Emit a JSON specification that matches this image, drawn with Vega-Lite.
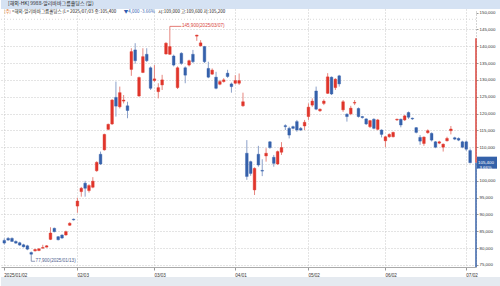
{
  "$schema": "https://vega.github.io/schema/vega-lite/v6.json",
  "padding": 0,
  "background": "white",
  "spacing": 0,
  "bounds": "flush",
  "config": {
    "view": {"stroke": null},
    "font": "Noto Sans CJK KR",
    "axis": {"labelFont": "Liberation Sans"}
  },
  "resolve": {"scale": {"x": "independent", "y": "independent"}},
  "datasets": {
    "ohlc": [
      {"d":"2025-01-02","o":82300,"h":82900,"l":81100,"c":81500},
      {"d":"2025-01-03","o":82900,"h":83300,"l":82200,"c":82400},
      {"d":"2025-01-06","o":82900,"h":83200,"l":81900,"c":82000},
      {"d":"2025-01-07","o":82000,"h":82300,"l":81300,"c":81500},
      {"d":"2025-01-08","o":81600,"h":81900,"l":80700,"c":80900},
      {"d":"2025-01-09","o":81000,"h":81300,"l":80200,"c":80400},
      {"d":"2025-01-10","o":80700,"h":81000,"l":79400,"c":79700},
      {"d":"2025-01-13","o":78700,"h":79000,"l":77900,"c":78200},
      {"d":"2025-01-14","o":79200,"h":79800,"l":79000,"c":79600},
      {"d":"2025-01-15","o":79300,"h":80000,"l":79100,"c":79800},
      {"d":"2025-01-16","o":80000,"h":81000,"l":79800,"c":80200},
      {"d":"2025-01-17","o":80300,"h":80900,"l":80200,"c":80700},
      {"d":"2025-01-20","o":82600,"h":86200,"l":82400,"c":84500},
      {"d":"2025-01-21","o":85900,"h":86100,"l":84700,"c":84900},
      {"d":"2025-01-22","o":83400,"h":83600,"l":82300,"c":82500},
      {"d":"2025-01-23","o":83900,"h":84100,"l":82800,"c":83000},
      {"d":"2025-01-24","o":83900,"h":85200,"l":83700,"c":84900},
      {"d":"2025-01-27","o":86800,"h":87700,"l":86600,"c":87400},
      {"d":"2025-01-28","o":88600,"h":88800,"l":88200,"c":88400},
      {"d":"2025-02-03","o":92500,"h":95000,"l":90500,"c":94000},
      {"d":"2025-02-04","o":96800,"h":98200,"l":95300,"c":97800},
      {"d":"2025-02-05","o":99300,"h":100000,"l":95300,"c":97800},
      {"d":"2025-02-06","o":97100,"h":99000,"l":96500,"c":98600},
      {"d":"2025-02-07","o":98100,"h":101100,"l":97800,"c":99900},
      {"d":"2025-02-10","o":103000,"h":105800,"l":102700,"c":105500},
      {"d":"2025-02-11","o":107900,"h":108700,"l":104700,"c":105000},
      {"d":"2025-02-12","o":109200,"h":114000,"l":109000,"c":113800},
      {"d":"2025-02-13","o":115300,"h":117000,"l":115000,"c":116800},
      {"d":"2025-02-14","o":116900,"h":124300,"l":116600,"c":124000},
      {"d":"2025-02-17","o":124800,"h":129500,"l":119100,"c":122200},
      {"d":"2025-02-18","o":122000,"h":128000,"l":121500,"c":126200},
      {"d":"2025-02-19","o":123700,"h":125500,"l":123000,"c":124000},
      {"d":"2025-02-20","o":122300,"h":123500,"l":118600,"c":120900},
      {"d":"2025-02-21","o":133100,"h":139400,"l":131200,"c":138400},
      {"d":"2025-02-24","o":138900,"h":140900,"l":134800,"c":135700},
      {"d":"2025-02-25","o":125200,"h":131000,"l":125000,"c":130700},
      {"d":"2025-02-26","o":132200,"h":139400,"l":132000,"c":136900},
      {"d":"2025-02-27","o":137600,"h":139400,"l":135300,"c":135700},
      {"d":"2025-02-28","o":133600,"h":134000,"l":127000,"c":127500},
      {"d":"2025-03-03","o":129800,"h":134400,"l":129400,"c":130300},
      {"d":"2025-03-04","o":126500,"h":129000,"l":124500,"c":127700},
      {"d":"2025-03-05","o":128500,"h":131500,"l":127000,"c":130000},
      {"d":"2025-03-06","o":137700,"h":141200,"l":137500,"c":140900},
      {"d":"2025-03-07","o":137600,"h":145900,"l":137400,"c":139900},
      {"d":"2025-03-10","o":137100,"h":137500,"l":134000,"c":134400},
      {"d":"2025-03-11","o":127700,"h":134000,"l":127300,"c":133600},
      {"d":"2025-03-12","o":137900,"h":138200,"l":134500,"c":134900},
      {"d":"2025-03-13","o":133600,"h":134000,"l":129000,"c":131400},
      {"d":"2025-03-14","o":134400,"h":136000,"l":134000,"c":135700},
      {"d":"2025-03-17","o":137600,"h":138900,"l":135000,"c":135400},
      {"d":"2025-03-18","o":143000,"h":143400,"l":141600,"c":143300},
      {"d":"2025-03-19","o":140100,"h":141800,"l":139900,"c":141000},
      {"d":"2025-03-20","o":139900,"h":140100,"l":135000,"c":135400},
      {"d":"2025-03-21","o":133400,"h":135400,"l":130500,"c":130800},
      {"d":"2025-03-24","o":131700,"h":133400,"l":131500,"c":132900},
      {"d":"2025-03-25","o":130800,"h":132400,"l":127200,"c":127500},
      {"d":"2025-03-26","o":128700,"h":130000,"l":128400,"c":129500},
      {"d":"2025-03-27","o":129500,"h":130500,"l":129200,"c":130000},
      {"d":"2025-03-28","o":132000,"h":133000,"l":130600,"c":131000},
      {"d":"2025-03-31","o":128800,"h":129200,"l":126200,"c":128000},
      {"d":"2025-04-01","o":129000,"h":131400,"l":128700,"c":129800},
      {"d":"2025-04-02","o":129000,"h":131900,"l":128500,"c":129800},
      {"d":"2025-04-03","o":122300,"h":126200,"l":122000,"c":123500},
      {"d":"2025-04-07","o":108200,"h":112100,"l":100300,"c":101300},
      {"d":"2025-04-08","o":105700,"h":106000,"l":101500,"c":102200},
      {"d":"2025-04-09","o":97300,"h":104000,"l":95800,"c":103700},
      {"d":"2025-04-10","o":107900,"h":110400,"l":104200,"c":104700},
      {"d":"2025-04-11","o":103100,"h":106400,"l":101400,"c":102900},
      {"d":"2025-04-14","o":107400,"h":109700,"l":105700,"c":108200},
      {"d":"2025-04-15","o":111600,"h":111800,"l":109500,"c":109900},
      {"d":"2025-04-16","o":107000,"h":107700,"l":104200,"c":105200},
      {"d":"2025-04-17","o":105000,"h":109000,"l":104700,"c":108700},
      {"d":"2025-04-22","o":108500,"h":111500,"l":107700,"c":109900},
      {"d":"2025-04-23","o":116400,"h":116800,"l":115100,"c":116100},
      {"d":"2025-04-24","o":115600,"h":116100,"l":112600,"c":113600},
      {"d":"2025-04-25","o":116100,"h":116400,"l":115300,"c":115600},
      {"d":"2025-04-28","o":117600,"h":118100,"l":114600,"c":115100},
      {"d":"2025-04-29","o":115600,"h":116000,"l":114800,"c":115100},
      {"d":"2025-04-30","o":116300,"h":118100,"l":115100,"c":117400},
      {"d":"2025-05-02","o":119100,"h":123000,"l":118100,"c":121900},
      {"d":"2025-05-06","o":122500,"h":124500,"l":122000,"c":123700},
      {"d":"2025-05-07","o":126700,"h":128000,"l":121000,"c":121300},
      {"d":"2025-05-08","o":120800,"h":121500,"l":120500,"c":121300},
      {"d":"2025-05-09","o":123000,"h":124200,"l":122500,"c":123700},
      {"d":"2025-05-12","o":126000,"h":132000,"l":125800,"c":130900},
      {"d":"2025-05-13","o":130800,"h":131000,"l":125500,"c":125800},
      {"d":"2025-05-14","o":127700,"h":130500,"l":127000,"c":130200},
      {"d":"2025-05-15","o":131200,"h":131500,"l":128000,"c":128800},
      {"d":"2025-05-16","o":121100,"h":124000,"l":120500,"c":123500},
      {"d":"2025-05-19","o":119800,"h":120100,"l":117600,"c":119100},
      {"d":"2025-05-20","o":119900,"h":122300,"l":119500,"c":121600},
      {"d":"2025-05-21","o":123100,"h":124000,"l":122500,"c":123300},
      {"d":"2025-05-22","o":121500,"h":121800,"l":118800,"c":119100},
      {"d":"2025-05-23","o":119100,"h":119300,"l":118500,"c":118800},
      {"d":"2025-05-26","o":118400,"h":118600,"l":116600,"c":116900},
      {"d":"2025-05-27","o":116100,"h":118100,"l":115700,"c":117900},
      {"d":"2025-05-28","o":118300,"h":118600,"l":115300,"c":115600},
      {"d":"2025-05-29","o":115300,"h":118400,"l":115000,"c":118100},
      {"d":"2025-05-30","o":115100,"h":115300,"l":112900,"c":113800},
      {"d":"2025-06-02","o":111900,"h":113300,"l":110000,"c":113100},
      {"d":"2025-06-03","o":113100,"h":114100,"l":112800,"c":113800},
      {"d":"2025-06-04","o":113100,"h":114600,"l":112900,"c":114400},
      {"d":"2025-06-05","o":118100,"h":118500,"l":117800,"c":118300},
      {"d":"2025-06-06","o":118300,"h":118500,"l":115900,"c":116600},
      {"d":"2025-06-09","o":118100,"h":119600,"l":117800,"c":119300},
      {"d":"2025-06-10","o":120300,"h":120600,"l":118400,"c":118900},
      {"d":"2025-06-11","o":118600,"h":118800,"l":118100,"c":118400},
      {"d":"2025-06-12","o":115800,"h":116000,"l":114100,"c":114400},
      {"d":"2025-06-13","o":112900,"h":113600,"l":110700,"c":111800},
      {"d":"2025-06-16","o":111100,"h":113200,"l":110400,"c":113000},
      {"d":"2025-06-17","o":114300,"h":115300,"l":114000,"c":114900},
      {"d":"2025-06-18","o":114100,"h":114400,"l":111700,"c":112100},
      {"d":"2025-06-19","o":111600,"h":111800,"l":109700,"c":110000},
      {"d":"2025-06-20","o":111200,"h":111900,"l":110900,"c":111600},
      {"d":"2025-06-23","o":110000,"h":111100,"l":108700,"c":110900},
      {"d":"2025-06-24","o":111900,"h":113100,"l":111700,"c":112600},
      {"d":"2025-06-25","o":114900,"h":116300,"l":113800,"c":115400},
      {"d":"2025-06-26","o":112800,"h":113100,"l":112100,"c":112400},
      {"d":"2025-06-27","o":112600,"h":112900,"l":111800,"c":112100},
      {"d":"2025-06-30","o":111600,"h":111900,"l":109700,"c":110000},
      {"d":"2025-07-02","o":111600,"h":112000,"l":108900,"c":109400},
      {"d":"2025-07-03","o":109000,"h":109600,"l":105200,"c":105400}
    ]
  },
  "vconcat": [
    {
      "width": 500,
      "height": 9,
      "view": {"fill": "#d5e2f3", "stroke": null},
      "title": {"text": "[해외-HK] 9988-알리바바그룹홀딩스 (일)", "anchor": "start", "orient": "bottom", "offset": -8, "baseline": "top", "dx": 7, "fontSize": 5, "fontWeight": "normal", "color": "#1f1f1f", "font": "Noto Sans CJK KR"},
      "data": {"values": []},
      "mark": "text"
    },
    {
      "vconcat": [
        {
          "width": 475,
          "height": 258,
          "view": {"stroke": null},
          "layer": [
            {
              "data": {"name": "ohlc"},
              "mark": {"type": "rule", "strokeWidth": 1},
              "encoding": {
                "x": {
                  "field": "d", "type": "ordinal",
                  "scale": {"paddingInner": 0.3, "paddingOuter": 0.84, "align": 0.3},
                  "axis": {
                    "values": ["2025-01-02", "2025-02-03", "2025-03-03", "2025-04-01", "2025-05-02", "2025-06-02", "2025-07-02"],
                    "labelExpr": "datum.value == '2025-01-02' ? '2025/01/02' : slice(datum.value, 5, 7) + '/' + slice(datum.value, 8, 10)",
                    "labelAlign": "left", "labelAngle": 0, "labelFontSize": 4.6, "labelColor": "#333333", "labelPadding": 2,
                    "grid": true, "gridDash": [1, 2], "gridColor": "#c8c8c8",
                    "tickSize": 3, "tickColor": "#999999", "domainColor": "#aaaaaa", "title": null
                  }
                },
                "y": {
                  "field": "l", "type": "quantitative",
                  "scale": {"domain": [74400, 151060], "nice": false, "zero": false},
                  "axis": {
                    "orient": "right",
                    "values": [75000, 80000, 85000, 90000, 95000, 100000, 105000, 110000, 115000, 120000, 125000, 130000, 135000, 140000, 145000, 150000],
                    "tickCount": 40,
                    "labelExpr": "datum.value == 105000 ? '' : format(datum.value, ',')",
                    "labelOverlap": false, "labelFontSize": 4.4, "labelColor": "#333333", "labelPadding": 1,
                    "grid": true, "gridDash": [1, 2], "gridColor": "#c8c8c8",
                    "gridOpacity": {"condition": {"test": "datum.value >= 150000", "value": 0}, "value": 1},
                    "domain": true, "domainColor": "#aaaaaa", "domainDash": [1, 2],
                    "tickSize": 2, "tickColor": "#999999", "title": null
                  }
                },
                "y2": {"field": "h"},
                "color": {"condition": {"test": "datum.c >= datum.o", "value": "#e6877f"}, "value": "#8ba0c9"}
              }
            },
            {
              "data": {"values": [{}]},
              "mark": {"type": "rule", "color": "#cfcfcf", "strokeDash": [1, 2], "strokeWidth": 0.8},
              "encoding": {"y": {"datum": 148000, "type": "quantitative"}}
            },
            {
              "data": {"name": "ohlc"},
              "mark": {"type": "bar", "strokeWidth": 0.4},
              "encoding": {
                "x": {"field": "d", "type": "ordinal"},
                "y": {"field": "o", "type": "quantitative"},
                "y2": {"field": "c"},
                "color": {"condition": {"test": "datum.c >= datum.o", "value": "#e0352b"}, "value": "#3561ab"},
                "stroke": {"condition": {"test": "datum.c >= datum.o", "value": "#e0352b"}, "value": "#3561ab"}
              }
            },
            {
              "data": {"values": [{"k": "up", "a": 105400, "b": 142400}, {"k": "down", "a": 74400, "b": 105400}]},
              "mark": {"type": "rule", "strokeWidth": 1.5},
              "encoding": {
                "x": {"value": "width"},
                "y": {"field": "a", "type": "quantitative"},
                "y2": {"field": "b"},
                "color": {"condition": {"test": "datum.k == 'up'", "value": "#d8453c"}, "value": "#3a63a8"}
              }
            },
            {
              "data": {"values": [{}]},
              "mark": {"type": "rect", "width": 20, "height": 12, "xOffset": 11, "color": "#3461a9"},
              "encoding": {"x": {"value": "width"}, "y": {"datum": 105400, "type": "quantitative"}}
            },
            {
              "data": {"values": [{}]},
              "mark": {"type": "text", "align": "left", "baseline": "middle", "dx": 2, "fontSize": 4.4, "lineBreak": "\n", "lineHeight": 5.2, "color": "white", "font": "Liberation Sans"},
              "encoding": {"x": {"value": "width"}, "y": {"datum": 105400, "type": "quantitative"}, "text": {"value": "105,400\n-3.66%"}}
            },
            {
              "data": {"values": [{}]},
              "mark": {"type": "rule", "color": "#d8453c", "strokeWidth": 0.7},
              "encoding": {"x": {"datum": "2025-03-07", "type": "ordinal"}, "x2": {"datum": "2025-03-12"}, "y": {"datum": 145900, "type": "quantitative"}}
            },
            {
              "data": {"values": [{}]},
              "mark": {"type": "text", "align": "left", "baseline": "middle", "dx": 0.5, "fontSize": 4.6, "color": "#d8453c", "font": "Liberation Sans"},
              "encoding": {"x": {"datum": "2025-03-12", "type": "ordinal"}, "y": {"datum": 145900, "type": "quantitative"}, "text": {"value": "145,900(2025/03/07)"}}
            },
            {
              "data": {"values": [{}]},
              "mark": {"type": "rule", "color": "#5d6f99", "strokeWidth": 0.7},
              "encoding": {"x": {"datum": "2025-01-13", "type": "ordinal"}, "y": {"datum": 77900, "type": "quantitative"}, "y2": {"datum": 76100}}
            },
            {
              "data": {"values": [{}]},
              "mark": {"type": "rule", "color": "#5d6f99", "strokeWidth": 0.7},
              "encoding": {"x": {"datum": "2025-01-13", "type": "ordinal"}, "x2": {"datum": "2025-01-14"}, "y": {"datum": 76100, "type": "quantitative"}}
            },
            {
              "data": {"values": [{}]},
              "mark": {"type": "text", "align": "left", "baseline": "middle", "dx": 0.5, "fontSize": 4.6, "color": "#4f6290", "font": "Liberation Sans"},
              "encoding": {"x": {"datum": "2025-01-14", "type": "ordinal"}, "y": {"datum": 76100, "type": "quantitative"}, "text": {"value": "77,900(2025/01/13)"}}
            },
            {
              "data": {"values": [{}]},
              "mark": {"type": "text", "align": "left", "baseline": "middle", "fontSize": 4.2, "color": "#e07020"},
              "encoding": {"x": {"datum": "2025-01-02", "type": "ordinal"}, "y": {"datum": 150300, "type": "quantitative"}, "text": {"value": "(주)"}}
            },
            {
              "data": {"values": [{}]},
              "mark": {"type": "text", "align": "left", "baseline": "middle", "fontSize": 4.5, "color": "#222222"},
              "encoding": {"x": {"datum": "2025-01-06", "type": "ordinal"}, "y": {"datum": 150300, "type": "quantitative"}, "text": {"value": "<해외-알리바바그룹홀딩스 (L> 2025/07/03 종:105,400"}}
            },
            {
              "data": {"values": [{}]},
              "mark": {"type": "text", "align": "left", "baseline": "middle", "fontSize": 4.5, "color": "#2e5bb0"},
              "encoding": {"x": {"datum": "2025-02-19", "type": "ordinal"}, "y": {"datum": 150300, "type": "quantitative"}, "text": {"value": "▼4,000 -3.66%"}}
            },
            {
              "data": {"values": [{}]},
              "mark": {"type": "text", "align": "left", "baseline": "middle", "fontSize": 4.5, "color": "#222222"},
              "encoding": {"x": {"datum": "2025-03-04", "type": "ordinal"}, "y": {"datum": 150300, "type": "quantitative"}, "text": {"value": "시:109,000 고:109,600 저:105,200"}}
            }
          ]
        },
        {
          "width": 500,
          "height": 9,
          "view": {"fill": "#e5eaf0", "stroke": null},
          "data": {"values": []},
          "mark": "text"
        }
      ],
      "spacing": 10,
      "bounds": "flush",
      "resolve": {"scale": {"x": "independent", "y": "independent"}}
    }
  ]
}
